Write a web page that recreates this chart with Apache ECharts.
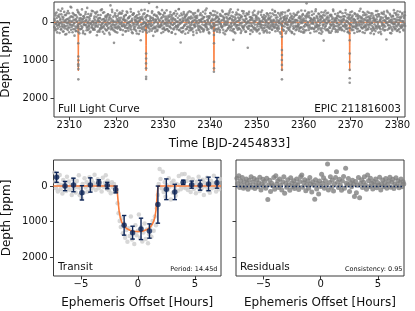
<!DOCTYPE html>
<html>
<head>
<meta charset="utf-8">
<script src="https://cdn.jsdelivr.net/npm/echarts@6/dist/echarts.min.js"></script>
<style>html,body{margin:0;padding:0;background:#fff}#c{width:415px;height:311px}</style>
</head>
<body>
<div id="c"></div>
<script>
// ---------- DATA ----------
const lcStart = 2306.8;          // first cadence time
const lcCadence = 0.0936;        // days between samples (each array)
const lcDepth = [
120,-45,210,-180,35,-260,90,-20,160,-330,
60,-140,280,15,-95,190,-210,45,-360,130,
-75,240,-15,100,-190,320,-60,5,170,-240,
85,-300,140,-35,260,-120,50,-410,195,-10,
-155,70,-245,180,-65,30,350,-185,110,-80,
225,-20,-130,95,-275,155,-50,290,-205,40,
-110,175,10,-340,120,-90,230,-160,65,-25,
310,-215,80,-70,145,-380,25,200,-135,105,
-55,265,-170,20,-225,130,-15,85,-290,170,
40,-100,195,-260,75,5,-145,340,-40,115,
-195,60,-30,245,-110,180,-320,90,-70,150,
15,-250,125,-85,300,-35,55,-175,210,-120,
95,-10,-205,160,-60,275,-140,30,-445,185,
-90,140,-275,50,-20,205,540,120,-185,70,
255,-150,35,-310,165,-45,100,-225,-5,135,
-60,185,-120,20,-235,95,325,-80,45,-165,
110,-35,240,-195,75,-285,150,10,-105,220,
-140,65,-15,170,-350,115,-50,260,-200,25,
80,-230,135,-70,190,-25,-160,55,295,-110,
-20,150,-280,100,-45,230,-135,470,-85,60,
175,-95,40,-215,125,-5,-330,210,15,-150,
-65,270,-180,90,-30,145,-510,50,185,-105,
30,-125,220,-290,65,-55,160,-190,115,-15,
245,-75,-165,105,-400,195,20,-85,130,-240,
-40,110,-220,55,280,-130,85,-25,-195,165,
140,-260,15,200,-100,45,-315,175,-60,90,
-170,235,-50,120,-205,10,155,-145,265,-35,
70,-115,190,-240,35,-80,305,-175,100,-10,
-225,130,-20,85,-350,210,-65,40,530,250,
5,-185,145,-45,230,-270,95,-105,60,-155,
185,-30,-210,115,-70,275,-125,20,-290,140,
-95,205,-155,65,-15,160,-235,330,-50,80,
125,-245,30,-110,215,-40,-175,100,-320,190,
-60,90,-190,255,-25,135,-95,-15,170,-280,
215,-140,75,-35,-230,120,40,-365,150,-70,
-15,180,-105,290,-160,60,-240,95,-45,125,
160,-55,-300,100,30,-200,205,-90,70,-180,
-130,245,-25,-145,180,-75,10,260,-215,50,
95,-170,135,-60,-280,195,-115,45,-20,315,
40,-220,65,210,-100,-35,155,-190,85,-250,
-115,110,-345,140,20,-80,230,-150,460,175,
255,-65,45,-200,105,-260,70,-30,195,-125,
-40,160,-95,30,-185,280,-140,85,-300,115,
130,-235,190,-50,75,-15,-165,245,-90,20,
-205,670,-25,165,-275,100,-60,215,-130,35,
90,-110,250,-185,15,140,-305,60,-45,190,
-150,200,-70,110,-230,25,175,-95,295,-20,
50,-265,120,-35,-140,210,-80,155,-195,75,
225,-45,-160,80,-10,265,-215,35,-110,145,
-85,170,-240,125,-55,-5,190,-330,100,-30,
115,-190,60,-280,235,-120,45,-70,160,-15,
-245,90,170,-50,25,-165,300,-105,70,-210,
180,-20,-135,220,-85,110,-260,15,-40,240,
-110,145,-300,65,195,-60,-20,130,-225,85,
35,-175,255,-95,-15,170,-140,310,-70,5,
-200,120,-50,185,-250,40,95,-115,225,-160,
150,-85,20,-310,135,-25,-190,265,-60,105,
-35,215,-165,50,-120,-500,-215,75,10,-140,
200,-255,110,-40,160,-95,30,-285,145,-10,
-75,175,-120,240,-45,85,-340,120,-165,60,
130,-30,-230,95,280,-150,15,-90,205,-265,
-145,250,55,-190,480,-60,165,-20,-305,90,
20,-115,185,-70,-250,225,-35,140,-180,45,
275,-160,80,-15,-125,170,-295,60,110,-55,
-220,95,-40,205,-105,15,250,-175,-60,135,
65,-280,150,-130,35,-20,190,-240,90,-85,
-50,230,-155,70,-325,110,-15,175,-120,260,
155,-95,-200,40,145,-265,60,-35,210,-140,
-180,125,25,-85,280,-50,-215,100,-10,165,
90,-205,170,-115,-25,235,-160,55,-355,120,
-30,150,-90,260,-185,20,115,-245,75,-60,
210,-125,45,-20,-275,180,-70,130,-150,35,
-95,285,-175,85,10,-230,155,-40,195,-110,
50,-60,230,-300,120,-15,-145,90,-210,270,
-160,105,-35,175,-90,310,-250,25,60,-120,
135,-215,90,-55,200,-140,-20,450,-100,15,
-265,70,-115,155,-40,85,-190,-5,290,-75,
185,-30,-170,110,-320,140,45,-85,165,-235,
-10,225,-135,60,-200,20,175,-60,-280,100,
120,-150,65,-245,95,-35,215,-115,30,-185
];
// second set of samples, half a cadence later
const lcDepthB = [
-85,150,-230,40,190,-115,265,-20,-170,75,
30,-205,115,-60,-300,180,-10,95,-145,240,
-125,55,-275,160,-35,100,-190,310,-80,15,
200,-90,20,-240,135,-50,70,-155,-390,120,
-30,260,-135,85,-210,15,175,-65,230,-185,
140,-15,-325,60,105,-250,40,-100,185,-45,
-200,95,165,-75,-20,285,-160,50,-115,70,
65,-270,-40,210,-135,125,-5,-220,80,165,
-100,30,245,-180,55,-305,145,-35,195,-10,
175,-150,-60,120,-230,20,90,-275,250,-95,
-45,215,-115,-10,160,-195,65,130,-340,35,
250,-80,100,-265,-30,170,-140,45,-60,205,
-170,60,-210,145,25,-105,320,-185,110,-25,
85,-330,175,-50,-145,65,-15,230,-240,150,
-20,120,-85,270,-175,-40,135,-110,40,-260,
195,-225,55,-15,100,-300,210,-70,-130,80,
-65,140,-190,230,-50,30,-255,160,15,-115,
115,-5,-160,75,-280,195,-35,-95,285,-200,
-240,180,40,-130,110,-60,225,-15,-185,55,
20,-110,305,-215,-40,150,-90,60,-320,130,
-150,245,-70,10,185,-235,95,-125,35,210,
70,-185,130,-295,50,-25,240,-160,-55,100,
-35,90,-250,165,-110,355,-75,20,-205,145,
160,-60,-20,-180,225,-130,60,-265,105,-45,
-215,125,80,-100,15,-320,170,-40,250,-150,
45,-240,195,-65,-155,90,-10,185,-115,30,
230,-35,-145,110,-270,45,-85,275,-190,65,
-80,170,-230,25,135,-55,-300,100,-20,180,
105,-120,60,-345,200,-175,15,-70,155,-230,
-10,265,-105,140,-45,-220,85,-150,300,-60,
-185,40,170,-85,-260,120,-25,215,-125,75,
135,-270,20,185,-110,-30,250,-200,60,-140,
-60,95,-165,-15,280,-120,40,-290,150,10,
210,-45,125,-235,-70,165,-180,55,-95,240,
-130,190,-25,75,-315,30,105,-150,200,-55,
50,-160,260,-120,15,-245,140,-40,-200,115,
-95,35,-180,225,-60,90,-285,170,-15,-130,
180,-250,65,-30,140,-90,-10,205,-175,45,
-40,125,-310,100,-155,275,-65,-120,80,-210,
235,-20,-140,55,-225,10,160,-80,120,-295,
-110,210,40,-170,95,-50,-265,190,-35,65,
25,-135,285,-95,-15,145,-210,80,-330,160,
-205,75,-55,180,-120,25,230,-155,5,-75,
150,-290,110,-40,-175,250,-100,35,-240,120,
-15,165,-215,90,15,-140,305,-60,-120,200,
95,-65,-255,135,-35,185,-195,-20,150,-105,
-175,240,60,-120,205,-280,45,-45,110,-15,
60,-195,155,-310,75,-10,-130,265,-85,140,
-120,20,-45,210,-240,130,-70,95,-175,30,
270,-110,85,-25,-155,60,195,-230,40,-65,
-50,150,-300,120,-15,-185,75,165,-135,220,
130,-40,15,-205,260,-95,-250,50,-20,105,
-265,95,200,-60,-130,35,-170,290,-90,45,
65,-175,-10,145,-320,180,-55,-115,235,-30,
-145,280,-85,30,105,-230,150,-20,-180,90,
205,-60,-195,95,-40,120,-275,60,170,-125,
-25,130,245,-150,-75,15,-215,185,-100,265,
110,-305,50,-45,210,-165,85,-10,-260,140,
-180,65,-120,280,-35,-90,165,-195,25,-55,
40,-225,170,-100,130,-290,10,235,-130,80,
-95,185,-40,-215,75,155,-65,-165,300,-20,
155,-115,90,-35,-260,50,-180,115,-75,210,
-235,30,-150,195,-10,-120,270,-50,140,-200,
75,-190,225,-80,45,-335,125,-15,-100,175,
-55,250,-110,20,-170,100,-240,190,55,-145,
190,-30,-275,135,-60,210,-15,-155,95,-80,
-160,115,35,-250,165,-45,80,-205,-25,245,
20,-140,290,-75,-190,55,-110,170,-285,100,
-75,200,-20,110,-235,-60,140,35,-160,60,
245,-95,-175,30,85,-300,220,-45,-120,5,
-130,60,160,-270,-35,125,-85,280,-195,140,
100,-205,-50,185,-145,70,-20,-250,60,-105,
-40,175,-235,15,225,-110,120,-170,310,-65,
165,-25,95,-190,-80,165,-295,40,-15,130,
-210,140,-70,250,-135,-15,90,-230,185,-50,
55,-280,215,-40,110,-170,25,-100,-305,195,
-100,85,-15,160,-225,280,-60,130,-145,20,
220,-160,45,-95,35,-245,185,-20,90,-190,
-65,110,-290,205,-55,60,-130,255,-40,-115,
145,-35,130,-215,-5,190,-160,70,-270,95
];
// in-transit samples of the full light curve [time, depth]
const lcTransitPts = [
[2311.90,250],[2311.91,550],[2311.92,900],[2311.93,1000],[2311.91,1100],[2311.92,1150],[2311.93,1230],[2311.92,1500],
[2326.37,70],[2326.38,820],[2326.39,950],[2326.37,1080],[2326.38,1210],[2326.39,1430],[2326.38,1490],
[2340.85,330],[2340.86,550],[2340.87,1040],[2340.86,1210],[2340.85,1300],
[2355.35,380],[2355.36,730],[2355.37,860],[2355.35,990],[2355.36,1120],[2355.37,1250],[2355.36,1500],
[2369.82,470],[2369.83,820],[2369.81,1040],[2369.82,1250],[2369.83,1470],[2369.82,1590]
];
const transitTimes = [2311.92, 2326.38, 2340.86, 2355.36, 2369.82];
const dipOffsets = [-0.09,-0.07,-0.04,0,0.04,0.07,0.09];
const dipDepths  = [0,600,1150,1275,1150,600,0];
const lcTimeRange = [2306.73, 2381.62];
const lcXTicks = [2310,2320,2330,2340,2350,2360,2370,2380];
const depthTicks = [0,1000,2000];

// folded transit data [hours, depth]
const foldPts = [
[-7.32,-380],[-7.25,-120],[-7.18,60],[-7.1,-250],[-7.02,150],[-6.95,-60],[-6.85,-310],[-6.78,90],[-6.7,-30],[-6.62,210],
[-6.55,-170],[-6.45,20],[-6.38,-90],[-6.3,140],[-6.22,-260],[-6.12,40],[-6.05,-130],[-5.95,110],[-5.88,-20],[-5.8,250],
[-5.7,-200],[-5.62,60],[-5.52,-70],[-5.45,180],[-5.35,-140],[-5.28,30],[-5.18,-300],[-5.1,260],[-5.02,70],[-4.92,350],
[-4.85,-60],[-4.75,190],[-4.68,-220],[-4.58,40],[-4.5,-110],[-4.42,160],[-4.32,-30],[-4.25,-250],[-4.15,120],[-4.05,-160],
[-3.98,50],[-3.88,-80],[-3.8,-320],[-3.7,110],[-3.62,-40],[-3.52,-190],[-3.45,60],[-3.35,-120],[-3.28,-10],[-3.18,150],
[-3.08,-230],[-3.0,20],[-2.9,-90],[-2.82,-300],[-2.72,80],[-2.65,-150],[-2.55,120],[-2.45,-40],[-2.38,200],[-2.28,-110],
[-2.2,30],[-2.1,-60],[-2.02,170],
[-1.85,150],[-1.78,480],[-1.7,760],[-1.6,980],[-1.5,1150],[-1.42,900],[-1.32,1320],[-1.22,1050],[-1.12,1450],[-1.02,1230],
[-0.92,1560],[-0.82,1180],[-0.72,1400],[-0.62,850],[-0.52,1500],[-0.42,1280],[-0.32,1620],[-0.22,1100],[-0.12,1380],[-0.02,1250],
[0.08,800],[0.18,1450],[0.28,1150],[0.38,1550],[0.48,1300],[0.58,1050],[0.68,1480],[0.78,1220],[0.88,1600],[0.98,1350],
[1.08,1150],[1.18,1420],[1.28,980],[1.38,1250],[1.48,850],[1.58,1100],[1.66,620],[1.74,250],
[1.82,-60],[1.9,-480],[1.98,-200],[2.08,60],[2.18,-400],[2.25,170],[2.35,-110],[2.42,300],[2.52,-30],[2.6,120],
[2.7,-220],[2.78,20],[2.88,380],[2.95,-90],[3.05,190],[3.12,-150],[3.22,50],[3.3,270],[3.4,-60],[3.5,130],
[3.58,-280],[3.68,-20],[3.75,90],[3.85,-330],[3.92,-100],[4.02,40],[4.1,-340],[4.2,60],[4.28,-140],[4.38,110],
[4.45,-240],[4.55,20],[4.62,170],[4.72,-70],[4.8,-190],[4.9,80],[4.98,-30],[5.08,200],[5.15,-120],[5.25,30],
[5.32,-260],[5.42,140],[5.5,-50],[5.6,60],[5.68,-180],[5.78,250],[5.85,-90],[5.95,10],[6.05,-230],[6.12,120],
[6.22,-40],[6.3,190],[6.4,-150],[6.48,60],[6.58,-80],[6.65,-290],[6.75,30],[6.85,150],[6.92,-120],[7.02,-20],
[7.1,90],[7.2,-200]
];
// binned points
const binHours = [-7.13,-6.39,-5.65,-4.91,-4.17,-3.43,-2.69,-1.95,-1.21,-0.47,0.27,1.01,1.75,2.49,3.23,3.97,4.71,5.45,6.19,6.93];
const binDepth = [-245,0,-30,190,-30,-90,-15,95,1100,1305,1200,1260,520,90,165,-105,-40,-25,-60,-90];
const binErr   = [140,130,190,200,200,85,90,95,275,180,300,200,520,290,215,60,100,140,190,150];
// transit model
const modelHours = [-7.4,-1.9,-1.82,-1.74,-1.65,-1.55,-1.42,-1.25,-1.0,-0.7,-0.4,-0.1,0.2,0.5,0.8,1.05,1.25,1.4,1.5,1.58,1.64,1.7,1.76,7.28];
const modelDepth = [0,0,120,420,700,880,1010,1110,1190,1240,1265,1275,1272,1255,1220,1160,1080,970,850,680,450,200,0,0];
// residuals [hours, ppm]
const residPts = [
[-7.32,-220],[-7.25,-70],[-7.15,-290],[-7.08,40],[-7.0,-150],[-6.92,-30],[-6.85,-240],[-6.75,60],[-6.68,-120],[-6.6,10],
[-6.5,-200],[-6.42,-80],[-6.35,90],[-6.25,-160],[-6.18,-20],[-6.08,-260],[-6.0,30],[-5.92,-110],[-5.82,-210],[-5.75,70],
[-5.65,-40],[-5.58,-170],[-5.5,20],[-5.4,-90],[-5.32,-250],[-5.22,110],[-5.15,-60],[-5.05,-190],[-4.98,0],[-4.9,-130],
[-4.8,60],[-4.72,-220],[-4.62,380],[-4.55,-40],[-4.45,-160],[-4.38,150],[-4.28,-80],[-4.2,-10],[-4.1,-240],[-4.02,90],
[-3.92,-290],[-3.85,-60],[-3.75,-150],[-3.68,40],[-3.58,-200],[-3.5,-20],[-3.4,110],[-3.32,-120],[-3.22,-260],[-3.15,200],
[-3.05,-70],[-2.98,30],[-2.88,-180],[-2.8,-40],[-2.7,120],[-2.62,-230],[-2.52,-90],[-2.45,20],[-2.35,-150],[-2.28,70],
[-2.18,-60],[-2.1,-200],[-2.0,-20],[-1.92,100],[-1.82,-130],[-1.75,-260],[-1.65,-310],[-1.58,30],[-1.48,-90],[-1.4,-180],
[-1.3,130],[-1.22,-40],[-1.12,-150],[-1.05,60],[-0.95,-240],[-0.88,-60],[-0.78,170],[-0.7,-120],[-0.6,-20],[-0.52,370],
[-0.45,-180],[-0.35,80],[-0.28,-70],[-0.18,220],[-0.1,-140],[0.0,10],[0.08,-330],[0.15,-80],[0.25,-230],[0.32,60],
[0.42,-150],[0.5,-20],[0.6,-620],[0.68,110],[0.78,-100],[0.85,-260],[0.95,30],[1.02,-170],[1.12,140],[1.2,-60],
[1.3,-240],[1.38,-400],[1.48,-110],[1.55,40],[1.65,-190],[1.72,-20],[1.82,120],[1.9,-140],[2.0,-270],[2.08,60],
[2.18,-500],[2.25,-80],[2.35,-30],[2.42,-210],[2.52,150],[2.6,-90],[2.7,20],[2.78,-160],[2.88,-50],[2.95,290],
[3.05,-130],[3.12,190],[3.22,-20],[3.3,-240],[3.4,330],[3.48,-70],[3.58,-180],[3.65,40],[3.75,-110],[3.82,-260],
[3.92,-30],[4.0,90],[4.1,-310],[4.18,-150],[4.28,10],[4.35,-220],[4.45,-80],[4.55,80],[4.62,-130],[4.72,-30],
[4.8,-200],[4.9,50],[4.98,-100],[5.08,-20],[5.15,-250],[5.25,110],[5.32,-60],[5.42,-170],[5.5,20],[5.6,-90],
[5.68,-210],[5.78,60],[5.85,-40],[5.95,-140],[6.05,-250],[6.12,30],[6.22,-110],[6.3,-190],[6.4,70],[6.48,-60],
[6.58,-230],[6.65,-10],[6.75,-150],[6.85,50],[6.92,-90],[7.02,-200],[7.1,20],[7.2,-120],[7.26,-60]
];
const hourTicks = [-5,0,5];
const hourRange = [-7.4, 7.28];

// ---------- BUILD ----------
const lcData = lcDepth.map((d, i) => [lcStart + i * lcCadence, d])
  .concat(lcDepthB.map((d, i) => [lcStart + (i + 0.5) * lcCadence, d]));
const lcModel = [[lcTimeRange[0], 0]];
transitTimes.forEach(tc => dipOffsets.forEach((o, k) => lcModel.push([tc + o, dipDepths[k]])));
lcModel.push([lcTimeRange[1], 0]);
const modelData = modelHours.map((h, i) => [h, modelDepth[i]]);
const binData = binHours.map((h, i) => [h, binDepth[i], binErr[i]]);

const FONT = 'DejaVu Sans';
const FRAME = '#3a3a3a';
const ORANGE = '#fb7d3c';
const NAVY = '#0c2456';
const minusFmt = v => (v < 0 ? '\u2212' + Math.abs(v) : String(v));

function xAx(gi, min, max, ticks, name) {
  return {
    type: 'value', gridIndex: gi, min, max,
    axisLine: { show: false, onZero: false },
    axisTick: { show: true, length: 3.5, inside: false, customValues: ticks, lineStyle: { color: FRAME, width: 1 } },
    axisLabel: { show: true, customValues: ticks, margin: 3, fontFamily: FONT, fontSize: 10, color: '#111', formatter: minusFmt },
    splitLine: { show: false },
    name: name, nameLocation: 'middle', nameGap: 21,
    nameTextStyle: { fontFamily: FONT, fontSize: 12, color: '#111' }
  };
}
function yAx(gi, min, max, showLabels) {
  return {
    type: 'value', gridIndex: gi, min, max, inverse: true,
    axisLine: { show: false, onZero: false },
    axisTick: { show: true, length: 3.5, inside: false, customValues: depthTicks, lineStyle: { color: FRAME, width: 1 } },
    axisLabel: { show: showLabels, customValues: depthTicks, margin: 6, fontFamily: FONT, fontSize: 10, color: '#111', formatter: v => String(v) },
    splitLine: { show: false },
    name: showLabels ? 'Depth [ppm]' : '', nameLocation: 'middle', nameGap: 41,
    nameTextStyle: { fontFamily: FONT, fontSize: 12, color: '#111' }
  };
}

const gridStyle = { show: true, borderColor: FRAME, borderWidth: 1, backgroundColor: 'transparent', containLabel: false, outerBoundsMode: 'none' };

const option = {
  animation: false,
  backgroundColor: '#fff',
  grid: [
    Object.assign({ left: 54, top: 2, width: 351, height: 115 }, gridStyle),
    Object.assign({ left: 53.5, top: 160, width: 167.5, height: 116 }, gridStyle),
    Object.assign({ left: 236, top: 160, width: 168, height: 116 }, gridStyle)
  ],
  xAxis: [
    xAx(0, lcTimeRange[0], lcTimeRange[1], lcXTicks, 'Time [BJD-2454833]'),
    xAx(1, hourRange[0], hourRange[1], hourTicks, 'Ephemeris Offset [Hours]'),
    xAx(2, hourRange[0], hourRange[1], hourTicks, 'Ephemeris Offset [Hours]')
  ],
  yAxis: [
    yAx(0, -535, 2490, true),
    yAx(1, -730, 2520, true),
    yAx(2, -730, 2520, false)
  ],
  series: [
    { type: 'line', xAxisIndex: 0, yAxisIndex: 0, data: lcModel, showSymbol: false, symbol: 'none',
      lineStyle: { color: ORANGE, width: 1 }, z: 1, clip: true },
    { type: 'scatter', xAxisIndex: 0, yAxisIndex: 0, data: lcData, symbolSize: 2.6, large: false,
      itemStyle: { color: '#7c7c7c' }, z: 2, clip: true },
    { type: 'scatter', xAxisIndex: 0, yAxisIndex: 0, data: lcTransitPts, symbolSize: 2.6,
      itemStyle: { color: '#7c7c7c' }, z: 3, clip: true },

    { type: 'scatter', xAxisIndex: 1, yAxisIndex: 1, data: foldPts, symbolSize: 4.5,
      itemStyle: { color: '#cdcdcd' }, z: 1, clip: true },
    { type: 'line', xAxisIndex: 1, yAxisIndex: 1, data: modelData, showSymbol: false, symbol: 'none',
      lineStyle: { color: ORANGE, width: 1.6 }, z: 2, clip: true },
    { type: 'custom', xAxisIndex: 1, yAxisIndex: 1, data: binData, z: 3, clip: true,
      renderItem: function (params, api) {
        const x = api.value(0), y = api.value(1), e = api.value(2);
        const a = api.coord([x, y - e]);
        const b = api.coord([x, y + e]);
        const cw = 2.2;
        const st = { stroke: NAVY, lineWidth: 1.4 };
        return { type: 'group', children: [
          { type: 'line', shape: { x1: a[0], y1: a[1], x2: b[0], y2: b[1] }, style: st },
          { type: 'line', shape: { x1: a[0] - cw, y1: a[1], x2: a[0] + cw, y2: a[1] }, style: st },
          { type: 'line', shape: { x1: b[0] - cw, y1: b[1], x2: b[0] + cw, y2: b[1] }, style: st }
        ]};
      }
    },
    { type: 'scatter', xAxisIndex: 1, yAxisIndex: 1, data: binData.map(d => [d[0], d[1]]), symbolSize: 5.5,
      itemStyle: { color: NAVY }, z: 4, clip: true },

    { type: 'scatter', xAxisIndex: 2, yAxisIndex: 2, data: residPts, symbolSize: 5,
      itemStyle: { color: '#808080' }, z: 2, clip: true,
      markLine: { silent: true, symbol: 'none', label: { show: false },
        lineStyle: { color: NAVY, type: [1.5, 2], width: 1.3 }, data: [{ yAxis: 0 }] } }
  ],
  graphic: [
    { type: 'text', x: 58, y: 109.5, style: { text: 'Full Light Curve', font: '10.5px "DejaVu Sans"', fill: '#111', textVerticalAlign: 'middle' } },
    { type: 'text', x: 401, y: 109.5, style: { text: 'EPIC 211816003', font: '10.5px "DejaVu Sans"', fill: '#111', textAlign: 'right', textVerticalAlign: 'middle' } },
    { type: 'text', x: 58, y: 267.5, style: { text: 'Transit', font: '10.5px "DejaVu Sans"', fill: '#111', textVerticalAlign: 'middle' } },
    { type: 'text', x: 217.5, y: 269, style: { text: 'Period: 14.45d', font: '6.5px "DejaVu Sans"', fill: '#111', textAlign: 'right', textVerticalAlign: 'middle' } },
    { type: 'text', x: 240, y: 267.5, style: { text: 'Residuals', font: '10.5px "DejaVu Sans"', fill: '#111', textVerticalAlign: 'middle' } },
    { type: 'text', x: 402.5, y: 269, style: { text: 'Consistency: 0.95', font: '6.5px "DejaVu Sans"', fill: '#111', textAlign: 'right', textVerticalAlign: 'middle' } }
  ]
};

const chart = echarts.init(document.getElementById('c'), null, { renderer: 'canvas' });
chart.setOption(option);
</script>
</body>
</html>
